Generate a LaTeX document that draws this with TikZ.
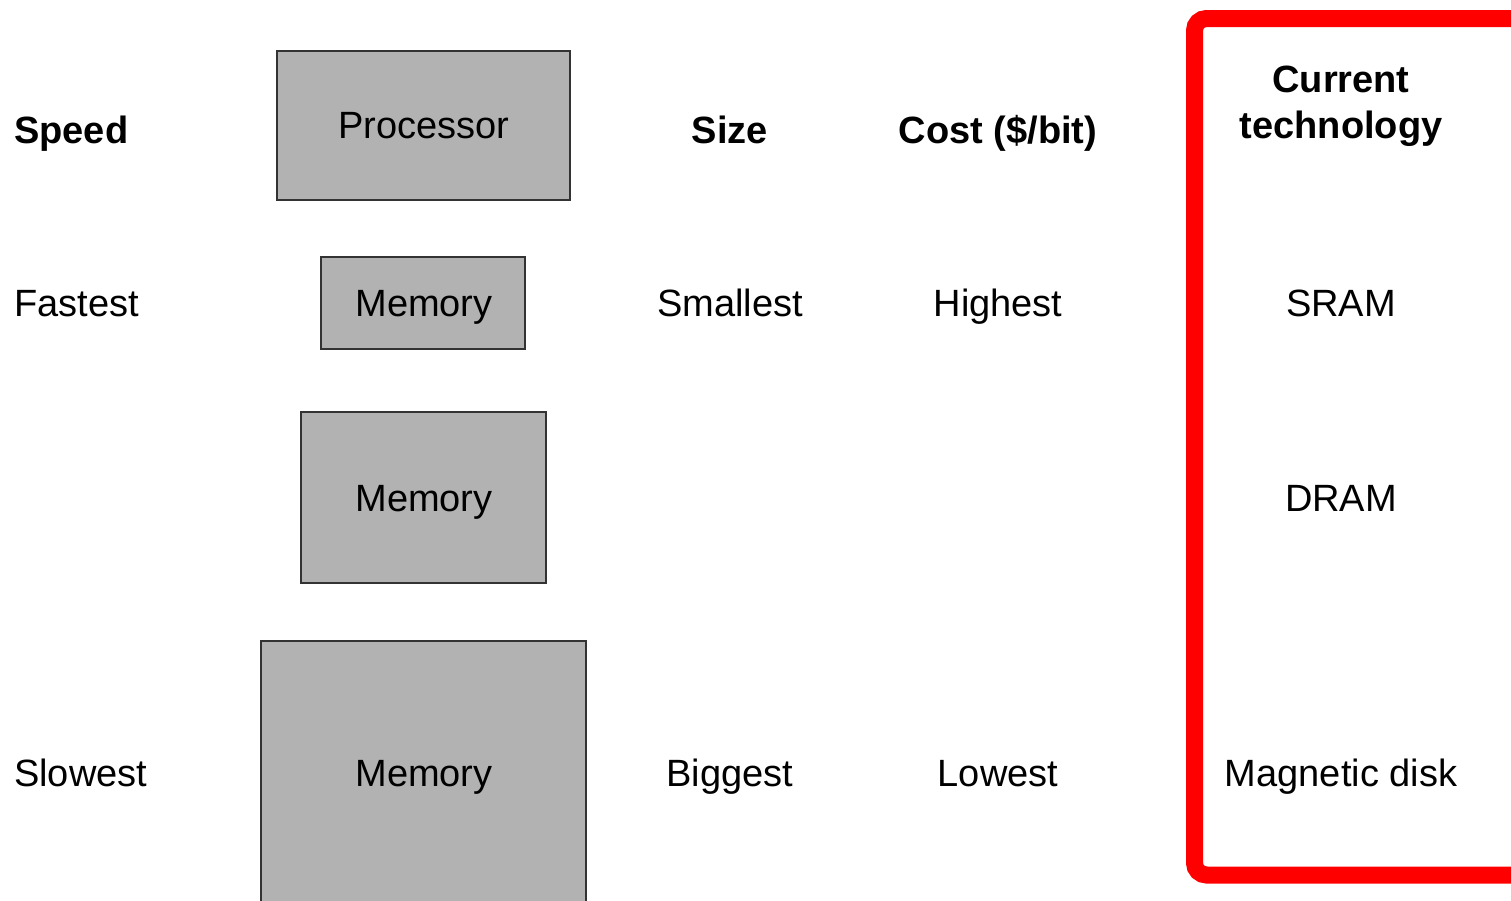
\documentclass[tikz,border=0pt]{standalone}
\usepackage{fontspec}
\setmainfont{Liberation Sans}
\begin{document}
\begin{tikzpicture}[x=1pt,y=-1pt,
  lbl/.style={font=\fontsize{38}{45}\selectfont, inner sep=0pt},
  hdr/.style={lbl, font=\fontsize{38}{47}\selectfont\bfseries},
  unit/.style={draw=black!80, line width=2pt, fill=black!30, inner sep=0pt}]
\useasboundingbox (0,0) rectangle (1511,900);
\begin{scope}
\clip (0,0) rectangle (1511,900);
% hierarchy boxes
\draw[unit] (277,51) rectangle (570,200);
\draw[unit] (321,257) rectangle (525,349);
\draw[unit] (301,412) rectangle (546,583);
\draw[unit] (261,641) rectangle (586,910);
% highlight frame around the technology column
\draw[red, line width=17pt, rounded corners=12pt] (1194.5,18.5) rectangle (1560,875);
\end{scope}
% box labels
\node[lbl, anchor=base] (proc) at (424,138) {Processor};
\node[lbl, anchor=base] (mem1) at (424,316) {Memory};
\node[lbl, anchor=base] (mem2) at (424,511) {Memory};
\node[lbl, anchor=base] (mem3) at (424,786) {Memory};
% column headers
\node[hdr, anchor=base west] (speed) at (14,143) {Speed};
\node[hdr, anchor=base] (size) at (730,143) {Size};
\node[hdr, anchor=base] (cost) at (998,143) {Cost (\$/bit)};
\node[hdr, anchor=base] (cur1) at (1341,92) {Current};
\node[hdr, anchor=base] (cur2) at (1341,138) {technology};
% top row
\node[lbl, anchor=base west] (fast) at (14,316) {Fastest};
\node[lbl, anchor=base] (small) at (730,316) {Smallest};
\node[lbl, anchor=base] (high) at (998,316) {Highest};
\node[lbl, anchor=base] (sram) at (1341,316) {SRAM};
% middle row
\node[lbl, anchor=base] (dram) at (1341,511) {DRAM};
% bottom row
\node[lbl, anchor=base west] (slow) at (14,786) {Slowest};
\node[lbl, anchor=base] (big) at (730,786) {Biggest};
\node[lbl, anchor=base] (low) at (998,786) {Lowest};
\node[lbl, anchor=base] (disk) at (1341,786) {Magnetic disk};
\end{tikzpicture}
\end{document}
